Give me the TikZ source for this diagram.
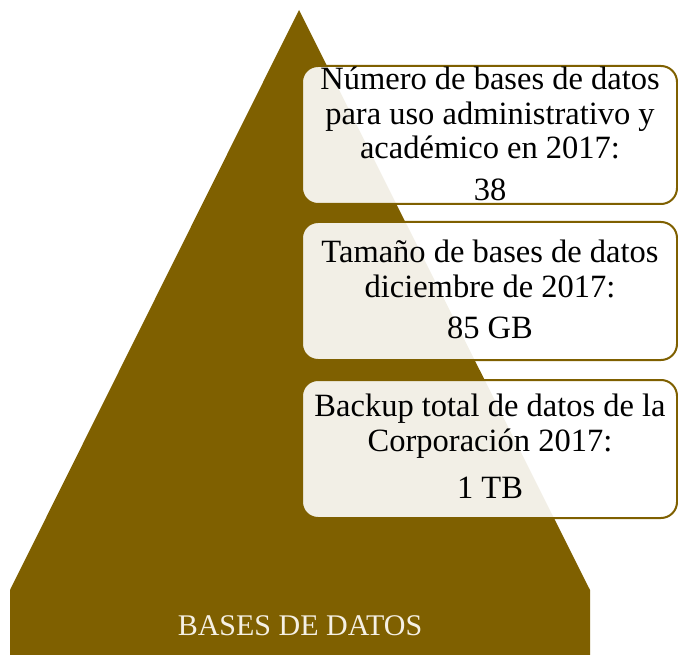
\documentclass[tikz,border=0pt]{standalone}
\usepackage{fontspec}
\setmainfont{Liberation Serif}
\definecolor{brownp}{RGB}{127,96,0}
\definecolor{lighttxt}{RGB}{245,240,228}
\tikzset{
  infobox/.style={draw=brownp, line width=2pt, fill=white, fill opacity=0.9, rounded corners=16pt},
  infotext/.style={font=\fontsize{32.5}{34.5}\selectfont, align=center, text=black, inner sep=0pt},
}
\begin{document}
\begin{tikzpicture}[x=1pt,y=-1pt]
\useasboundingbox (0,0) rectangle (678,655);
\fill[brownp] (299,10) -- (590,590) -- (590,655) -- (10,655) -- (10,590) -- cycle;
\node[text=lighttxt, font=\fontsize{30}{33}\selectfont, inner sep=0pt] (base) at (300,626) {BASES DE DATOS};
% boxes
\draw[infobox] (302,66) rectangle (677,204);
\draw[infobox] (302,222) rectangle (677,360);
\draw[infobox] (302,380) rectangle (677,518);
\node[infotext] (t1) at (490,113) {Número de bases de datos\\para uso administrativo y\\académico en 2017:};
\node[infotext] (v1) at (490,190) {38};
\node[infotext] (t2) at (490,269) {Tamaño de bases de datos\\diciembre de 2017:};
\node[infotext] (v2) at (490,328) {85 GB};
\node[infotext] (t3) at (490,426) {Backup total de datos de la\\Corporación 2017:};
\node[infotext] (v3) at (490,488) {1 TB};
\end{tikzpicture}
\end{document}
